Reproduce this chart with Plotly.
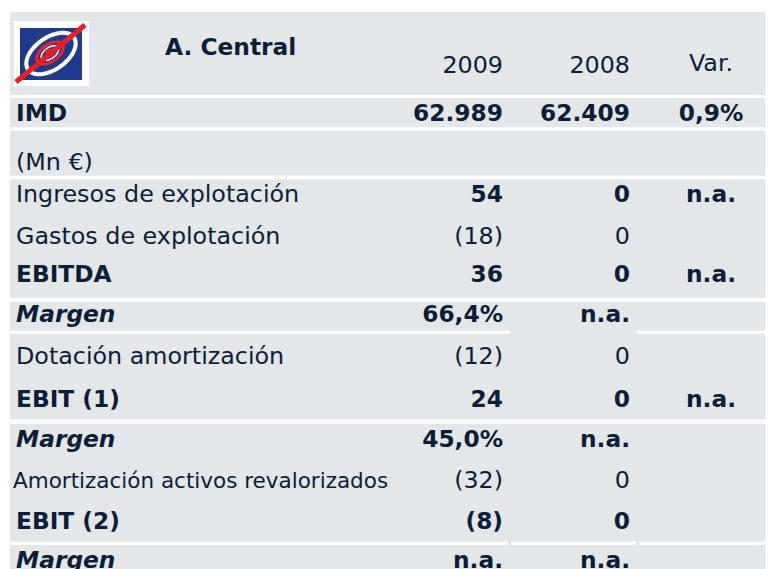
import math
import plotly.graph_objects as go

# ---------------- data ----------------
title = "A. Central"
headers = ["2009", "2008", "Var."]
labels = ["IMD", "(Mn €)", "Ingresos de explotación", "Gastos de explotación", "EBITDA",
          "Margen", "Dotación amortización", "EBIT (1)", "Margen",
          "Amortización activos revalorizados", "EBIT (2)", "Margen"]
v2009 = ["62.989", "", "54", "(18)", "36", "66,4%", "(12)", "24", "45,0%", "(32)", "(8)", "n.a."]
v2008 = ["62.409", "", "0", "0", "0", "n.a.", "0", "0", "n.a.", "0", "0", "n.a."]
vvar = ["0,9%", "", "n.a.", "", "n.a.", "", "", "n.a.", "", "", "", ""]

# ---------------- styles / layout ----------------
label_style = ["b", "r", "r", "r", "b", "bi", "r", "b", "bi", "s", "b", "bi"]
value_style = ["b", "r", "b", "r", "b", "b", "r", "b", "b", "r", "b", "b"]

W, H = 773, 569
OFF = 8  # page body margin compensation
FAMILY = "DejaVu Sans"
TXT = "#0b1d39"
BG = "#e3e7ea"
STY = {
    "r": dict(size=23.8, weight="normal", style="normal"),
    "b": dict(size=23.3, weight="bold", style="normal"),
    "bi": dict(size=23.3, weight="bold", style="italic"),
    "s": dict(size=21.5, weight="normal", style="normal"),
}
row_base = [120.7, 170, 202.3, 244, 282.3, 322.5, 364.5, 406.7, 447, 487.7, 529.3, 568.5]
LABEL_X = {"s": 13}
LABEL_X_DEFAULT = 16
X2009, X2008, XVAR = 503, 630, 711

# background blocks (y0, y1) spanning the full width
blocks = [(12, 95), (98, 127.3), (130.7, 175.7), (179.3, 297.7), (301.7, 330.7),
          (333.7, 419.3), (423.7, 541.7), (545, 569)]
X0, X1 = 10, 773

fig = go.Figure()


def ypos(base, st):
    return base - 0.25 * STY[st]["size"]


def add_text(xs, ys, texts, pos, st):
    s = STY[st]
    fig.add_trace(go.Scatter(
        x=xs, y=ys, text=texts, mode="text", textposition=pos,
        textfont=dict(family=FAMILY, size=s["size"], color=TXT,
                      weight=s["weight"], style=s["style"]),
        hoverinfo="skip", showlegend=False, cliponaxis=False))


# backgrounds
for y0, y1 in blocks:
    fig.add_shape(type="rect", xref="x", yref="y", x0=X0, x1=X1, y0=y0, y1=y1,
                  fillcolor=BG, line_width=0, layer="below")
# small bridges in the gaps
fig.add_shape(type="rect", xref="x", yref="y", x0=510, x1=637, y0=330, y1=334.5,
              fillcolor=BG, line_width=0, layer="below")
for bx0, bx1 in [(507.7, 511), (636, 639.3)]:
    fig.add_shape(type="rect", xref="x", yref="y", x0=bx0, x1=bx1, y0=541, y1=545.5,
                  fillcolor=BG, line_width=0, layer="below")

# logo
fig.add_shape(type="rect", xref="x", yref="y", x0=14, x1=89, y0=21, y1=86,
              fillcolor="white", line_width=0)
fig.add_shape(type="rect", xref="x", yref="y", x0=20, x1=82, y0=28, y1=80,
              fillcolor="#1f3a8c", line_width=0)


def ellipse_path(cx, cy, a, b, th, n=60):
    pts = []
    for i in range(n):
        t = 2 * math.pi * i / n
        ex, ey = a * math.cos(t), b * math.sin(t)
        x = cx + ex * math.cos(th) + ey * math.sin(th)
        y = cy - ex * math.sin(th) + ey * math.cos(th)
        pts.append(f"{x:.2f},{y:.2f}")
    return "M " + " L ".join(pts) + " Z"


th = math.radians(35)
fig.add_shape(type="path", xref="x", yref="y", path=ellipse_path(51, 53.5, 28, 16, th),
              line=dict(color="white", width=4), fillcolor="rgba(0,0,0,0)")
fig.add_shape(type="path", xref="x", yref="y", path=ellipse_path(50, 53, 15, 8.5, th),
              line=dict(color="#e8242c", width=3), fillcolor="rgba(0,0,0,0)")
fig.add_shape(type="path", xref="x", yref="y", path=ellipse_path(50, 53, 10, 5.5, th),
              line=dict(color="white", width=1.5), fillcolor="rgba(0,0,0,0)")
fig.add_shape(type="circle", xref="x", yref="y", x0=45, x1=54, y0=48.5, y1=57.5,
              fillcolor="#e8242c", line_width=0)
fig.add_shape(type="line", xref="x", yref="y", x0=16, y0=82, x1=85, y1=25,
              line=dict(color="#ec1c24", width=5))

# header texts
add_text([165], [ypos(55, "b")], [title], "middle right", "b")
add_text([X2009, X2008], [ypos(73, "r")] * 2, headers[:2], "middle left", "r")
add_text([XVAR], [ypos(70.7, "r")], [headers[2]], "middle center", "r")

# row labels grouped by style
for st in STY:
    idx = [i for i, s in enumerate(label_style) if s == st]
    if idx:
        add_text([LABEL_X.get(st, LABEL_X_DEFAULT)] * len(idx),
                 [ypos(row_base[i], st) for i in idx],
                 [labels[i] for i in idx], "middle right", st)

# values grouped by style
for st in STY:
    idx = [i for i, s in enumerate(value_style) if s == st]
    if not idx:
        continue
    add_text([X2009] * len(idx), [ypos(row_base[i], st) for i in idx],
             [v2009[i] for i in idx], "middle left", st)
    add_text([X2008] * len(idx), [ypos(row_base[i], st) for i in idx],
             [v2008[i] for i in idx], "middle left", st)
    add_text([XVAR] * len(idx), [ypos(row_base[i], st) for i in idx],
             [vvar[i] for i in idx], "middle center", st)

fig.update_layout(
    width=W, height=H, margin=dict(l=0, r=0, t=0, b=0),
    paper_bgcolor="white", plot_bgcolor="white",
    xaxis=dict(range=[OFF, W + OFF], visible=False, fixedrange=True),
    yaxis=dict(range=[H + OFF, OFF], visible=False, fixedrange=True),
)
fig.write_html("out.html")
